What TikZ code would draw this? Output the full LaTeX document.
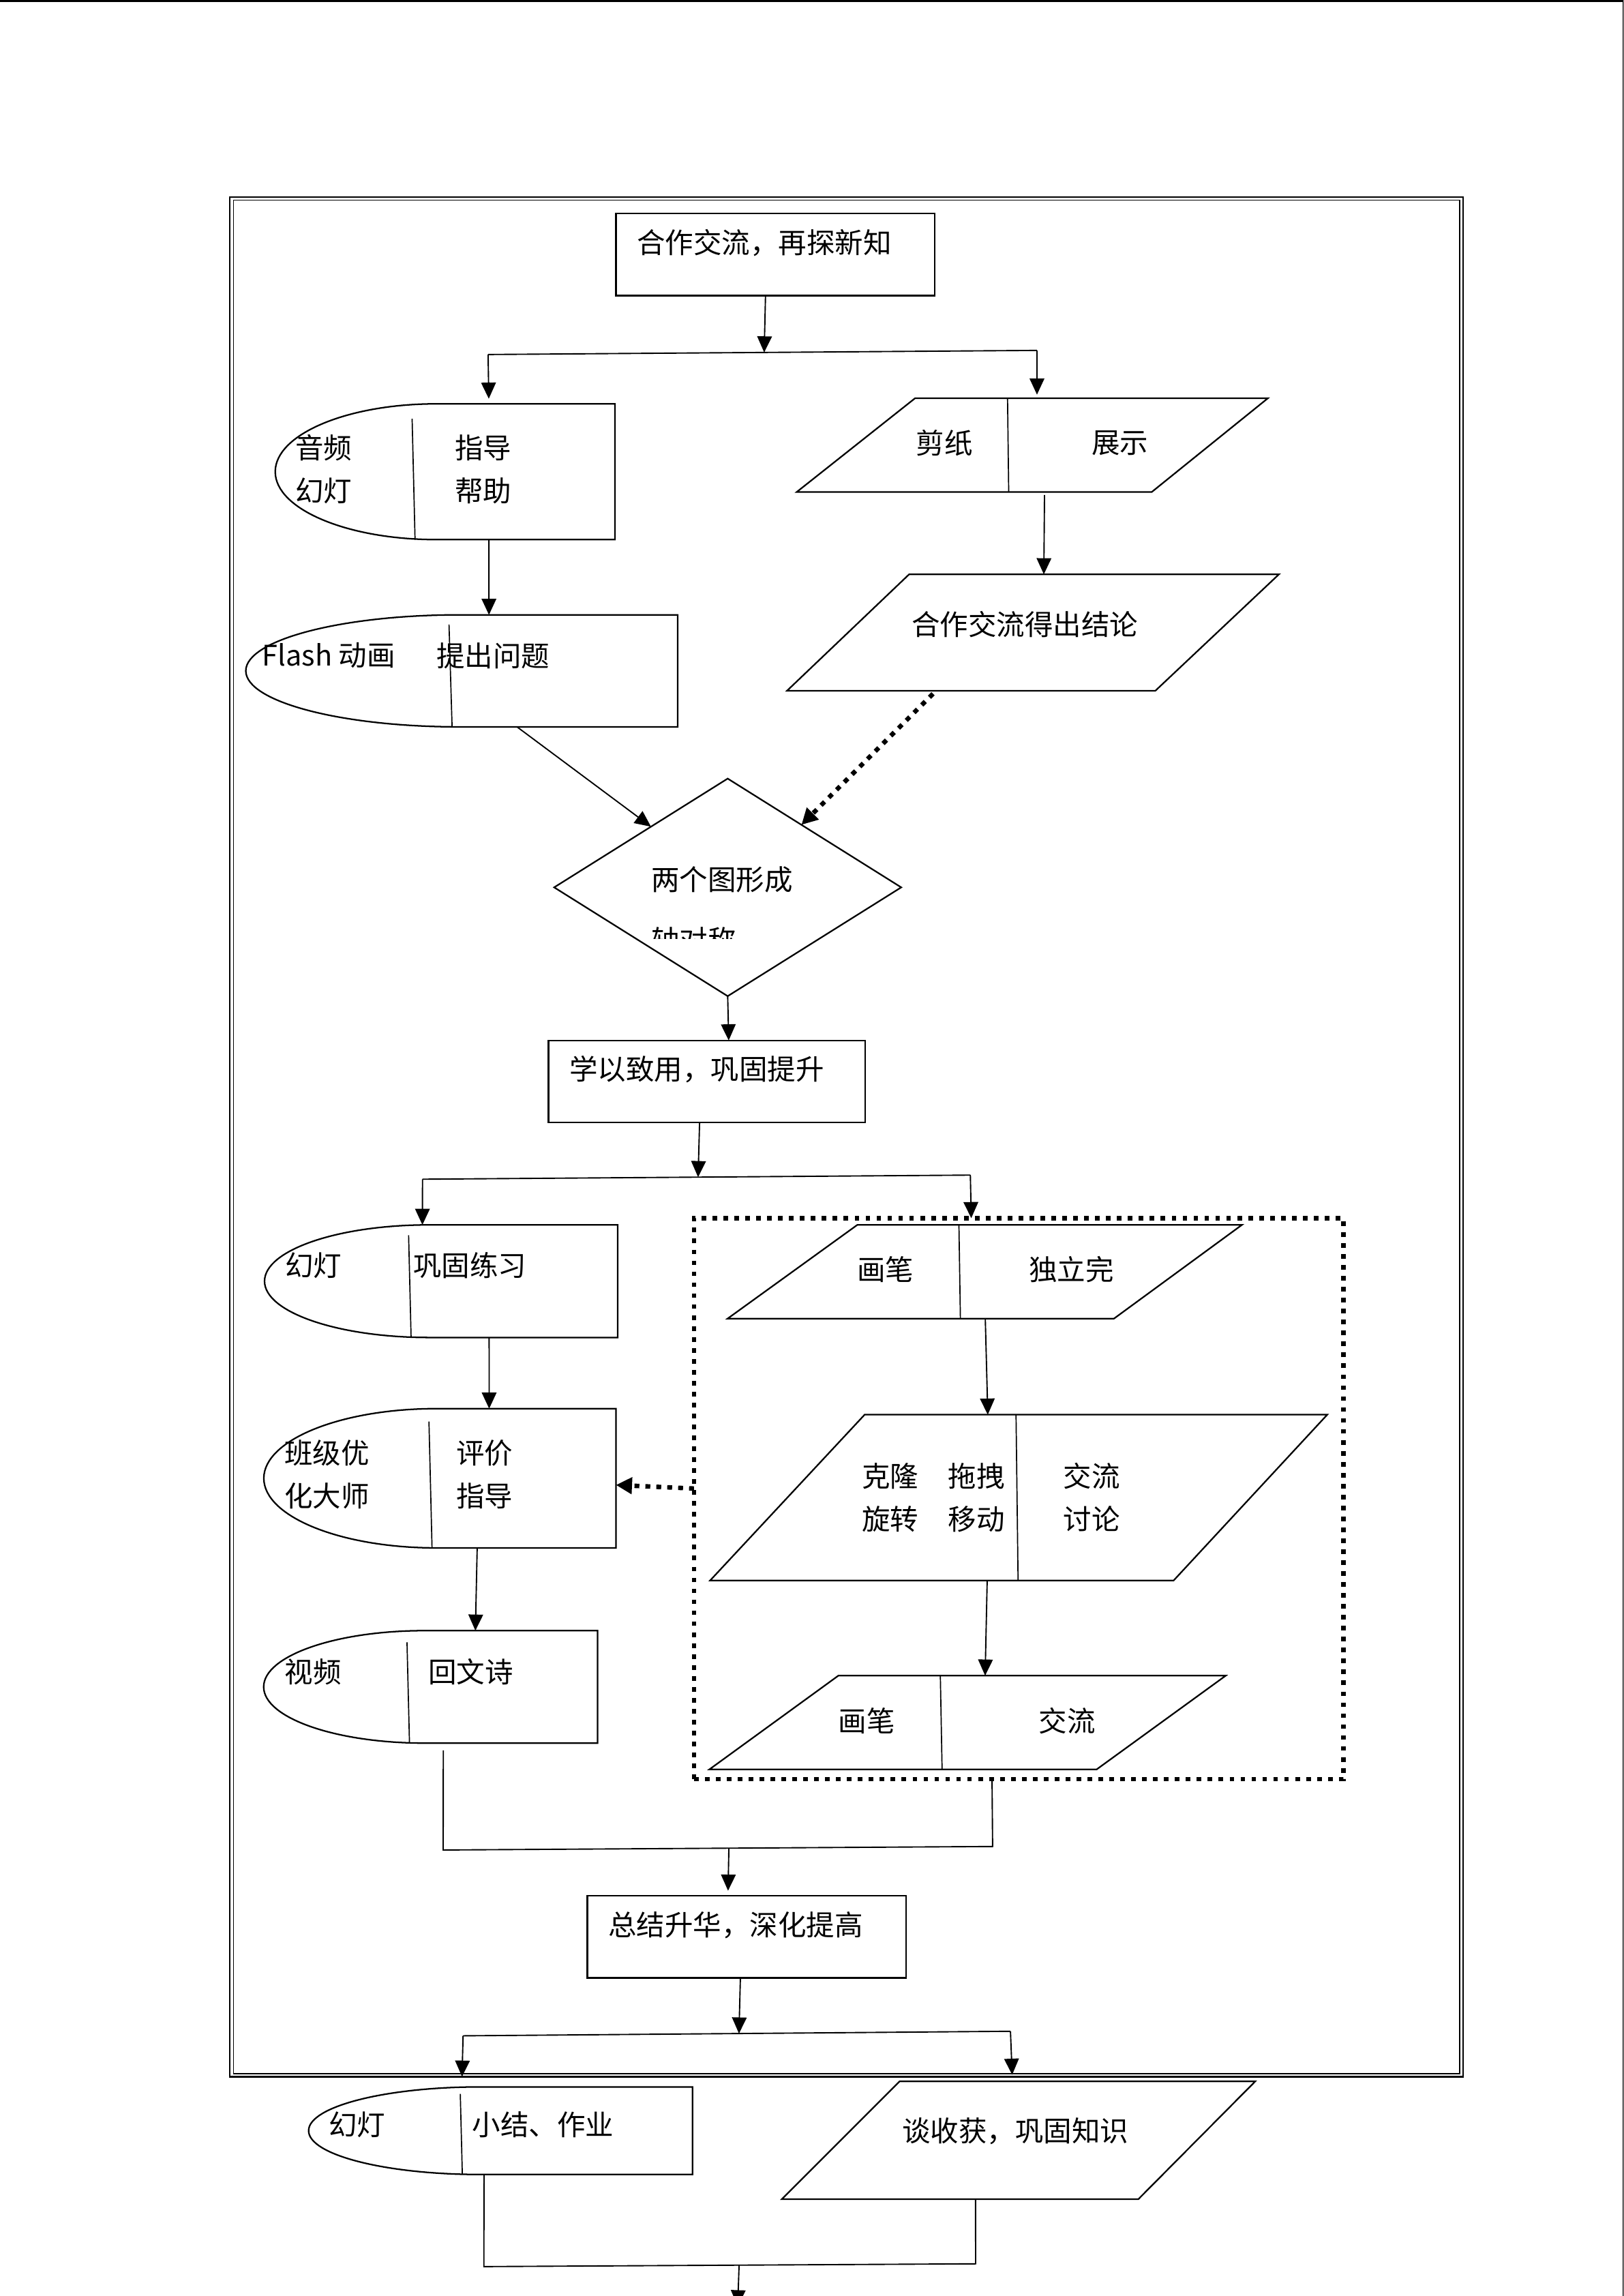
\documentclass[tikz,border=0pt]{standalone}
\usepackage{fontspec}
\newfontfamily\cjk{Noto Sans CJK SC}
\usetikzlibrary{arrows.meta,calc,fit,shapes.geometric}

\tikzset{
 shp/.style={draw, line width=0.6pt, line join=miter},
 box0/.style={inner sep=0pt, outer sep=0pt},
 div/.style={line width=0.45pt},
 con/.style={line width=0.5pt},
 arr/.style={con, -{Triangle[length=0.22cm,width=0.2cm]}},
 darr/.style={line width=1.75pt, dash pattern=on 1.9pt off 2.35pt, -{Triangle[length=0.22cm,width=0.22cm]}},
 dotbox/.style={draw, line width=1.7pt, dash pattern=on 1.8pt off 2.45pt, inner sep=0pt, outer sep=0pt},
 txt/.style={inner sep=0pt, font=\cjk\fontsize{11}{16.7}\selectfont, align=left},
 stage/.style={draw, line width=0.6pt, inner xsep=0.284cm, inner ysep=0pt, text height=0.54cm, text depth=0.58cm, align=left, anchor=north west, font=\cjk\fontsize{11}{13}\selectfont, outer sep=0pt},
}

% name, L, J, R, T, B
\newcommand\capshape[6]{%
  \draw[shp] (#3,#5) -- (#4,#5) -- (#4,#6) -- (#3,#6)
    .. controls ({#3-0.5523*(#3-#2)},#6) and (#2,{(#5+#6)/2+0.5523*(#6-#5)/2}) .. (#2,{(#5+#6)/2})
    .. controls (#2,{(#5+#6)/2-0.5523*(#6-#5)/2}) and ({#3-0.5523*(#3-#2)},#5) .. cycle;
  \node[box0, fit={(#2,#5) (#4,#6)}] (#1) {};}

% name, TLx, TRx, Ty, BLx, BRx, By
\newcommand\mkpara[7]{%
  \draw[shp] (#2,#4) -- (#3,#4) -- (#6,#7) -- (#5,#7) -- cycle;
  \node[box0, fit={(#5,#4) (#3,#7)}] (#1) {};}

\begin{document}
\begin{tikzpicture}[x=0.02cm,y=-0.02cm]
\clip (0,0) rectangle (1109,1568);
\fill[white] (0,0) rectangle (1109,1568);
% page edges
\draw[line width=0.06cm] (0,0) -- (1109,0);
\draw[line width=0.024cm] (1109,0) -- (1109,1568);
% double frame
\draw[line width=0.6pt] (157,134.5) rectangle (999.5,1418.3);
\draw[line width=0.4pt] (159.5,136.6) rectangle (997,1416.2);

% ---- stage 1
\node[stage, text width=3.786cm] (t1) at (420.8,145.9) {合作交流，再探新知};
\coordinate (j1l) at (333.4,242.1);
\coordinate (j1r) at (708.3,239.3);
\draw[arr] ($(t1.south west)!0.469!(t1.south east)$) -- ($(j1l)!0.503!(j1r)$);
\draw[con] (j1l) -- (j1r);

% S1
\capshape{s1}{188}{298}{420}{275.8}{368.5}
\draw[div] (281.5,286) -- (283.5,368.5);
\node[txt] (s1a) at (221,320.3) {音频\\幻灯};
\node[txt] (s1b) at (330,320.3) {指导\\帮助};
\draw[arr, shorten >=0.07cm] (j1l) -- ($(s1.north west)!0.629!(s1.north east)$);

% P jianzhi
\mkpara{pjz}{625}{866}{272}{544.2}{786.7}{336}
\draw[div] (688.2,272) -- (689,336);
\node[txt] (pjza) at (645,302.5) {剪纸};
\node[txt] (pjzb) at (765,302.5) {展示};
\draw[arr, shorten >=0.05cm] (j1r) -- ($(pjz.north west)!0.510!(pjz.north east)$);

% S2
\capshape{s2}{167.9}{314}{462.9}{419.9}{496.4}
\draw[div] (306.7,426.5) -- (308.8,496.4);
\node[txt] (s2a) at (224.5,447.7) {Flash 动画};
\node[txt] (s2b) at (336.8,447.7) {提出问题};
\draw[arr] ($(s1.south west)!0.629!(s1.south east)$) -- ($(s2.north west)!0.563!(s2.north east)$);

% P hezuo
\mkpara{phz}{621}{873.6}{392.2}{537.6}{789.2}{471.7}
\node[txt] (phzt) at (700,426.5) {合作交流得出结论};
\draw[arr, shorten <=0.04cm] ($(pjz.south west)!0.526!(pjz.south east)$) -- ($(phz.north west)!0.522!(phz.north east)$);

% diamond
\node[draw, diamond, line width=0.6pt, minimum width=4.742cm, minimum height=2.972cm, inner sep=0pt, outer sep=0pt] (dm) at (497.05,606) {};
\node[txt, anchor=west] (dm1) at (444.6,600.7) {两个图形成};
\begin{scope}
\clip (400,560) rectangle (600,641);
\node[txt, anchor=west] (dm2) at (444.6,642) {轴对称};
\end{scope}
\draw[arr] ($(s2.south west)!0.628!(s2.south east)$) -- ($(dm.west)!0.558!(dm.north)$);
\draw[darr, shorten <=0.06cm] ($(phz.south west)!0.303!(phz.south east)$) -- ($(dm.north)!0.425!(dm.east)$);

% ---- stage 2
\node[stage, text width=3.758cm] (t2) at (374.7,710.5) {学以致用，巩固提升};
\draw[arr] (dm.south) -- ($(t2.north west)!0.569!(t2.north east)$);
\coordinate (j2l) at (288.6,805.3);
\coordinate (j2r) at (662.8,802.5);
\draw[arr] ($(t2.south west)!0.477!(t2.south east)$) -- ($(j2l)!0.503!(j2r)$);
\draw[con] (j2l) -- (j2r);

% S3
\capshape{s3}{180.7}{293}{421.9}{836.5}{913.4}
\draw[div] (279.1,843.6) -- (280.8,913.4);
\node[txt] (s3a) at (214,864.1) {幻灯};
\node[txt] (s3b) at (321,864.1) {巩固练习};
\draw[arr] (j2l) -- ($(s3.north west)!0.447!(s3.north east)$);

% dotted group box
\node[dotbox, fit={(474,831.9) (917.6,1215)}] (db) {};
\draw[arr] (j2r) -- ($(db.north west)!0.427!(db.north east)$);

% P1
\mkpara{p1}{585.6}{848.3}{836.5}{497}{760.9}{900.5}
\draw[div] (655,836.5) -- (656,900.5);
\node[txt] (p1a) at (604.7,866.7) {画笔};
\node[txt] (p1b) at (731.8,866.7) {独立完};
% P2
\mkpara{p2}{590.6}{906.6}{966.1}{485}{801.6}{1079.4}
\draw[div] (694,966.1) -- (695.4,1079.4);
\node[txt] (p2a) at (608,1022.7) {克隆\\旋转};
\node[txt] (p2b) at (667,1022.7) {拖拽\\移动};
\node[txt] (p2c) at (745.6,1022.7) {交流\\讨论};
\draw[arr] ($(p1.south west)!0.501!(p1.south east)$) -- ($(p2.north west)!0.450!(p2.north east)$);
% P3
\mkpara{p3}{572.7}{837.3}{1144.3}{484.5}{749}{1208.4}
\draw[div] (642.3,1144.3) -- (643.5,1208.4);
\node[txt] (p3a) at (592,1175) {画笔};
\node[txt] (p3b) at (729,1175) {交流};
\draw[arr] ($(p2.south west)!0.449!(p2.south east)$) -- ($(p3.north west)!0.534!(p3.north east)$);

% S4
\capshape{s4}{180.2}{298}{420.7}{962}{1057.1}
\draw[div] (293,970.8) -- (295.1,1057.1);
\node[txt] (s4a) at (223.4,1007) {班级优\\化大师};
\node[txt] (s4b) at (331,1007) {评价\\指导};
\draw[arr] ($(s3.south west)!0.636!(s3.south east)$) -- ($(s4.north west)!0.640!(s4.north east)$);
\draw[darr] ($(db.north west)!0.482!(db.south west)$) -- ($(s4.north east)!0.548!(s4.south east)$);

% S5
\capshape{s5}{180.1}{290}{408.2}{1113.6}{1190.4}
\draw[div] (278,1121.6) -- (279.7,1190.4);
\node[txt] (s5a) at (213.8,1141.7) {视频};
\node[txt] (s5b) at (321.5,1141.7) {回文诗};
\draw[arr] ($(s4.south west)!0.606!(s4.south east)$) -- ($(s5.north west)!0.634!(s5.north east)$);

% merge 1
\coordinate (m1l) at (302.7,1263.4);
\coordinate (m1r) at (678,1261);
\draw[con, shorten <=0.1cm] ($(s5.south west)!0.538!(s5.south east)$) -- (m1l) -- (m1r) -- ($(db.south west)!0.459!(db.south east)$);

% ---- stage 3
\node[stage, text width=3.788cm] (t3) at (401.2,1294.7) {总结升华，深化提高};
\draw[arr, shorten >=0.07cm] ($(m1l)!0.520!(m1r)$) -- ($(t3.north west)!0.441!(t3.north east)$);
\coordinate (j3l) at (316.3,1390.3);
\coordinate (j3r) at (690.2,1387.2);
\draw[arr] ($(t3.south west)!0.480!(t3.south east)$) -- ($(j3l)!0.504!(j3r)$);
\draw[con] (j3l) -- (j3r);

% S6
\capshape{s6}{210.8}{328}{473}{1425.2}{1485}
\draw[div] (314.4,1430) -- (315.8,1485);
\node[txt] (s6a) at (244,1450.8) {幻灯};
\node[txt] (s6b) at (371,1450.8) {小结、作业};
\draw[arr, shorten >=0.14cm] (j3l) -- ($(s6.north west)!0.399!(s6.north east)$);

% P shouhuo
\mkpara{psh}{614.5}{857.4}{1421.4}{534.1}{777.6}{1501.8}
\node[txt] (psht) at (693.5,1455.5) {谈收获，巩固知识};
\draw[arr, shorten >=0.09cm] (j3r) -- ($(psh.north west)!0.487!(psh.north east)$);

% merge 2
\coordinate (m2l) at (330.5,1547.9);
\coordinate (m2r) at (666.4,1546);
\coordinate (endp) at (503.9,1575);
\draw[con] ($(s6.south west)!0.457!(s6.south east)$) -- (m2l) -- (m2r) -- ($(psh.south west)!0.409!(psh.south east)$);
\draw[arr] ($(m2l)!0.519!(m2r)$) -- (endp);
\end{tikzpicture}
\end{document}
